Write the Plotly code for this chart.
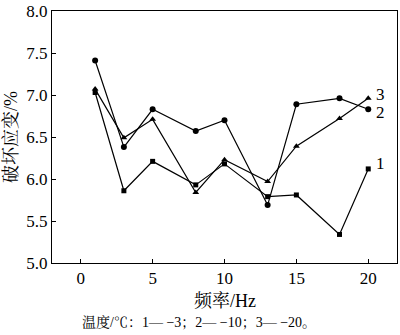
import plotly.graph_objects as go

freq = [1, 3, 5, 8, 10, 13, 15, 18, 20]
s1 = [7.03, 5.86, 6.21, 5.93, 6.18, 5.79, 5.81, 5.34, 6.12]
s2 = [7.41, 6.38, 6.83, 6.57, 6.70, 5.69, 6.89, 6.96, 6.83]
s3 = [7.07, 6.49, 6.71, 5.84, 6.23, 5.97, 6.39, 6.72, 6.96]
names = ["1", "2", "3"]
x_ticks = [0, 5, 10, 15, 20]
y_ticks = [5.0, 5.5, 6.0, 6.5, 7.0, 7.5, 8.0]

serif = "Liberation Serif, Times New Roman, serif"
cjk = "Liberation Serif, Noto Serif CJK SC, Noto Sans CJK SC, serif"

fig = go.Figure()
for ys, sym, nm, sz in [(s1, "square", names[0], 5), (s2, "circle", names[1], 6), (s3, "triangle-up", names[2], 6)]:
    fig.add_trace(go.Scatter(x=freq, y=ys, mode="lines+markers", name=nm,
                             line=dict(color="black", width=1.2),
                             marker=dict(symbol=sym, size=sz, color="black"),
                             showlegend=False))

# end labels
label_y = {"1": s1[-1] + 0.06, "2": s2[-1] - 0.04, "3": s3[-1] + 0.05}
for nm in names:
    fig.add_annotation(x=freq[-1], y=label_y[nm], text=nm, showarrow=False,
                       xanchor="left", xshift=6, font=dict(family=serif, size=17, color="black"))

fig.add_annotation(x=0.5, y=-0.105, xref="paper", yref="paper", text="频率/Hz", showarrow=False,
                   yanchor="top", font=dict(family=cjk, size=18, color="black"))
fig.add_annotation(x=0.08, y=-0.195, xref="paper", yref="paper",
                   text="温度/℃：1— −3；2— −10；3— −20。", showarrow=False,
                   xanchor="left", yanchor="top", font=dict(family=cjk, size=14, color="black"))

fig.update_xaxes(range=[-2, 22], tickvals=x_ticks, ticks="inside", ticklen=4, tickcolor="black",
                 showline=True, linecolor="black", linewidth=1, mirror=True, showgrid=False,
                 zeroline=False, tickfont=dict(family=serif, size=17, color="black"))
fig.update_yaxes(range=[5.0, 8.0], tickvals=y_ticks, tickformat=".1f", ticks="inside", ticklen=4,
                 tickcolor="black", showline=True, linecolor="black", linewidth=1, mirror=True,
                 showgrid=False, zeroline=False, ticklabeloverflow="allow",
                 tickfont=dict(family=serif, size=17, color="black"),
                 title=dict(text="破坏应变/%", font=dict(family=cjk, size=18, color="black"), standoff=4))

fig.update_layout(width=400, height=335, margin=dict(l=52, r=2, t=5, b=72),
                  plot_bgcolor="white", paper_bgcolor="white")
fig.write_html("out.html")
